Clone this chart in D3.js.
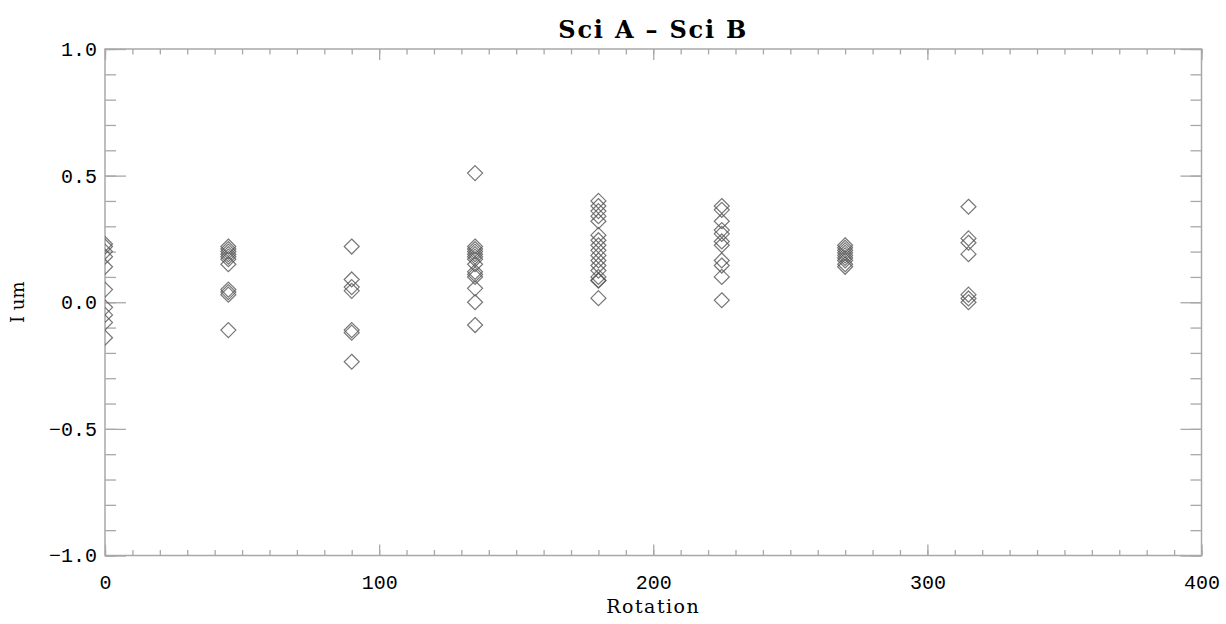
<!DOCTYPE html>
<html>
<head>
<meta charset="utf-8">
<script src="https://cdn.jsdelivr.net/npm/d3@7"></script>
<style>
  body { margin: 0; background: #fff; }
  text { fill: #000; }
</style>
</head>
<body>
<div id="chart"></div>
<script>
// values, one list per rotation angle
const rotations = [0, 45, 90, 135, 180, 225, 270, 315]
const rot0 = [0.23, 0.22, 0.20, 0.18, 0.14, 0.05, -0.02, -0.05, -0.08, -0.14]
const rot45 = [0.22, 0.21, 0.20, 0.19, 0.18, 0.17, 0.15, 0.05, 0.04, 0.03, -0.11]
const rot90 = [0.22, 0.09, 0.06, 0.045, -0.11, -0.12, -0.235]
const rot135 = [0.51, 0.22, 0.21, 0.20, 0.19, 0.18, 0.17, 0.15, 0.12, 0.11, 0.10, 0.055, 0.0, -0.09]
const rot180 = [0.40, 0.38, 0.36, 0.34, 0.32, 0.265, 0.245, 0.225, 0.205, 0.185, 0.165, 0.145, 0.125, 0.10, 0.087, 0.085, 0.016]
const rot225 = [0.38, 0.365, 0.32, 0.285, 0.27, 0.24, 0.225, 0.165, 0.145, 0.10, 0.008]
const rot270 = [0.225, 0.215, 0.205, 0.195, 0.185, 0.175, 0.165, 0.15, 0.14]
const rot315 = [0.377, 0.252, 0.235, 0.19, 0.03, 0.015, 0.0]
const groups = [rot0, rot45, rot90, rot135, rot180, rot225, rot270, rot315]

const xTicks = [0, 100, 200, 300, 400]
const yTicks = [-1.0, -0.5, 0.0, 0.5, 1.0]

const points = []
groups.forEach((g, i) => g.forEach(v => points.push({ rot: rotations[i], val: v })))

const params = {
  width: 1226,
  height: 624,
  marginTop: 49,
  marginBottom: 68.5,
  marginLeft: 105,
  marginRight: 24.5,
}
const axisColor = '#a8a8a8'
const monoFont = '"Liberation Mono", "DejaVu Sans Mono", monospace'
const serifFont = '"DejaVu Serif", "Liberation Serif", serif'

const svg = d3.select('#chart')
  .append('svg')
  .attr('width', params.width)
  .attr('height', params.height)

const x = d3.scaleLinear()
  .domain([0, 400])
  .range([params.marginLeft, params.width - params.marginRight])

const y = d3.scaleLinear()
  .domain([-1, 1])
  .range([params.height - params.marginBottom, params.marginTop])

const fmtY = v => (v < 0 ? '\u2212' : '') + Math.abs(v).toFixed(1)

// minor ticks
const xMinor = d3.range(0, 401, 10)
const yMinor = d3.range(-10, 11).map(d => d / 10)

function addAxis(axis, transform) {
  const g = svg.append('g').attr('transform', transform).call(axis)
  g.selectAll('.domain').remove()
  g.selectAll('line').attr('stroke', axisColor).attr('stroke-width', 1.3)
  g.selectAll('text').style('font-family', monoFont).style('font-size', '20px').attr('fill', '#000')
  return g
}

const bottomY = y(-1), topY = y(1), leftX = x(0), rightX = x(400)

// bottom axis
addAxis(d3.axisBottom(x).tickValues(xMinor).tickSize(-5.5).tickFormat(''), `translate(0,${bottomY})`)
addAxis(d3.axisBottom(x).tickValues(xTicks).tickSize(-11).tickPadding(19).tickFormat(d3.format('d')), `translate(0,${bottomY})`)
// top axis
addAxis(d3.axisTop(x).tickValues(xMinor).tickSize(-5.5).tickFormat(''), `translate(0,${topY})`)
addAxis(d3.axisTop(x).tickValues(xTicks).tickSize(-11).tickFormat(''), `translate(0,${topY})`)
// left axis
addAxis(d3.axisLeft(y).tickValues(yMinor).tickSize(-11).tickFormat(''), `translate(${leftX},0)`)
addAxis(d3.axisLeft(y).tickValues(yTicks).tickSize(-21).tickPadding(8).tickFormat(fmtY), `translate(${leftX},0)`)
// right axis
addAxis(d3.axisRight(y).tickValues(yMinor).tickSize(-11).tickFormat(''), `translate(${rightX},0)`)
addAxis(d3.axisRight(y).tickValues(yTicks).tickSize(-21).tickFormat(''), `translate(${rightX},0)`)

// frame
svg.append('rect')
  .attr('x', leftX).attr('y', topY)
  .attr('width', rightX - leftX).attr('height', bottomY - topY)
  .attr('fill', 'none')
  .attr('stroke', axisColor)
  .attr('stroke-width', 1.5)

svg.append('clipPath').attr('id', 'plot-clip')
  .append('rect')
  .attr('x', leftX).attr('y', topY)
  .attr('width', rightX - leftX).attr('height', bottomY - topY)

// diamond markers
const r = 7.5
const diamond = `M0,${-r}L${r},0L0,${r}L${-r},0Z`

svg.append('g')
  .attr('clip-path', 'url(#plot-clip)')
  .selectAll('path')
  .data(points)
  .enter()
  .append('path')
  .attr('d', diamond)
  .attr('transform', d => `translate(${x(d.rot)},${y(d.val)})`)
  .attr('fill', 'none')
  .attr('stroke', '#555')
  .attr('stroke-opacity', 0.8)
  .attr('stroke-width', 1.2)

// title and axis titles
svg.append('text')
  .attr('x', (leftX + rightX) / 2)
  .attr('y', 38)
  .attr('text-anchor', 'middle')
  .style('font-family', serifFont)
  .style('font-weight', 'bold')
  .style('font-size', '24px')
  .style('letter-spacing', '1.8px')
  .text('Sci A \u2013 Sci B')

svg.append('text')
  .attr('x', (leftX + rightX) / 2)
  .attr('y', 613)
  .attr('text-anchor', 'middle')
  .style('font-family', serifFont)
  .style('font-size', '19px')
  .style('letter-spacing', '1.5px')
  .text('Rotation')

svg.append('text')
  .attr('transform', `translate(24,${y(0)}) rotate(-90)`)
  .attr('text-anchor', 'middle')
  .style('font-family', serifFont)
  .style('font-size', '18px')
  .text('I um')
</script>
</body>
</html>
